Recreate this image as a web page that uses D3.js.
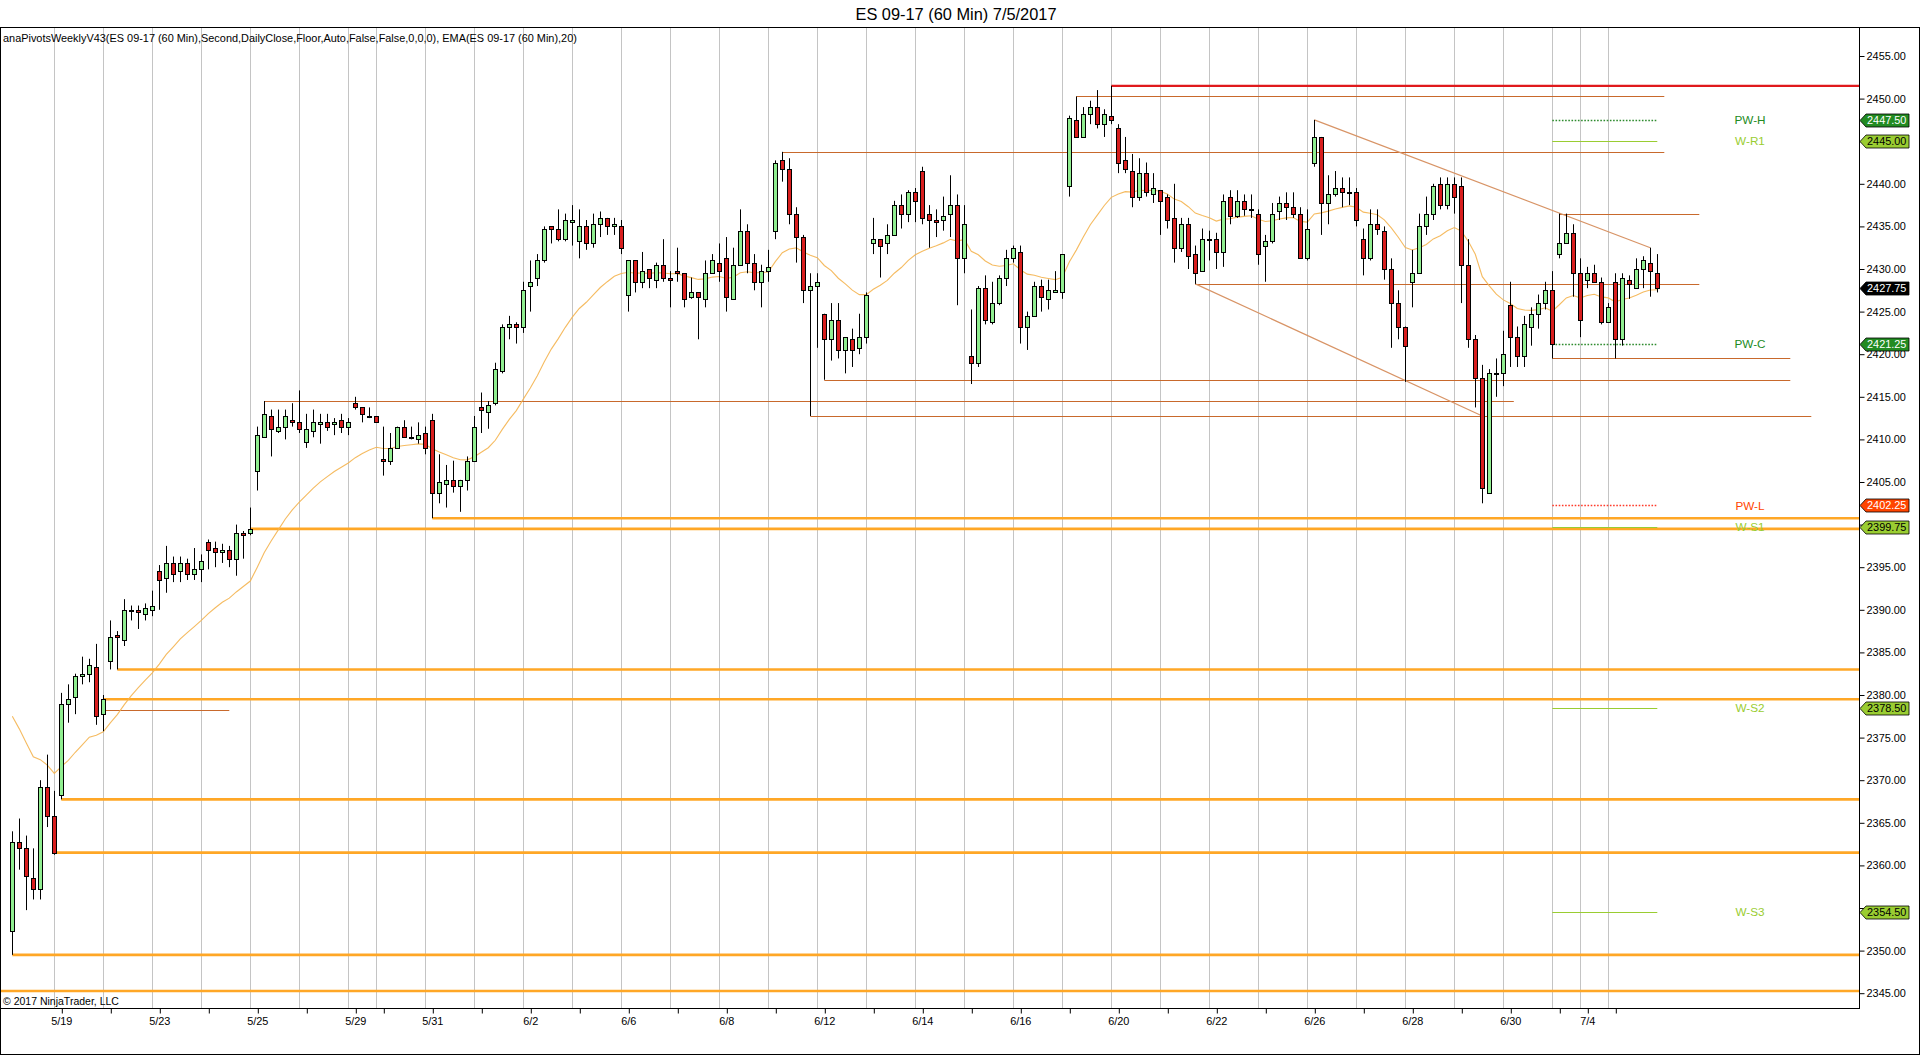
<!DOCTYPE html>
<html><head><meta charset="utf-8">
<script src="https://cdn.jsdelivr.net/npm/d3@7"></script>
<style>
html,body{margin:0;padding:0;background:#fff;overflow:hidden;}
svg{display:block;}
</style></head><body><svg id="c" width="1920" height="1055"></svg>
<script>
// ---------------- DATA ----------------
const opens = [2352.25,2362.75,2362.0,2358.5,2357.25,2369.25,2365.75,2368.25,2379.0,2379.75,2382.25,2382.5,2383.25,2377.75,2384.0,2387.0,2386.5,2390.0,2390.0,2389.5,
2390.0,2394.5,2393.75,2395.5,2394.5,2395.5,2394.25,2394.75,2398.0,2397.25,2396.75,2397.0,2396.0,2399.0,2399.0,2406.25,2410.25,2412.75,2411.0,2411.5,
2412.25,2412.0,2409.75,2411.0,2411.75,2412.0,2411.75,2412.25,2411.5,2414.25,2413.75,2412.75,2412.75,2407.75,2407.5,2409.0,2411.5,2410.25,2410.0,2410.75,
2412.25,2403.75,2404.75,2405.25,2404.5,2405.25,2407.5,2413.75,2413.25,2414.25,2418.0,2423.25,2423.5,2423.25,2428.0,2429.0,2431.0,2435.0,2434.75,2433.5,
2435.5,2433.25,2435.0,2433.0,2435.25,2436.0,2435.0,2435.0,2427.0,2431.0,2428.5,2430.0,2428.75,2430.5,2429.0,2429.75,2429.5,2426.75,2427.25,2426.5,
2429.5,2430.75,2431.25,2426.5,2430.5,2434.5,2430.75,2428.5,2429.75,2434.5,2442.75,2441.75,2436.5,2433.75,2427.5,2428.0,2424.75,2421.75,2424.0,2420.5,
2421.75,2420.75,2422.0,2433.0,2433.5,2433.0,2434.0,2437.5,2436.5,2439.0,2441.5,2436.5,2435.75,2435.75,2436.5,2437.5,2431.25,2419.75,2419.0,2427.75,
2423.75,2426.0,2429.0,2431.25,2432.0,2423.25,2424.5,2428.0,2426.5,2427.25,2427.25,2439.75,2447.5,2445.5,2448.25,2449.0,2447.0,2448.0,2446.5,2442.75,
2441.5,2438.5,2441.25,2438.75,2439.25,2438.5,2436.0,2432.5,2435.25,2431.75,2429.75,2433.5,2433.5,2432.0,2438.5,2436.25,2438.0,2437.0,2436.5,2432.75,
2433.25,2436.75,2437.75,2437.25,2436.5,2431.25,2442.5,2445.5,2437.75,2438.75,2439.5,2439.0,2439.0,2433.5,2431.25,2435.25,2434.5,2430.0,2426.0,2423.25,
2428.5,2429.5,2435.0,2436.5,2440.0,2437.5,2440.0,2439.75,2430.5,2421.75,2417.25,2403.75,2417.75,2417.75,2425.75,2422.0,2419.75,2423.25,2424.75,2426.0,
2427.5,2431.75,2433.0,2434.25,2429.5,2428.75,2429.5,2428.5,2423.75,2428.5,2421.75,2428.75,2427.75,2430.0,2430.75,2429.5];
const highs = [2364.0,2365.5,2363.5,2362.0,2370.0,2373.0,2368.75,2380.25,2381.25,2382.5,2384.5,2384.25,2386.0,2380.0,2388.75,2387.5,2391.25,2390.5,2390.5,2390.75,
2392.25,2395.25,2397.5,2396.25,2396.25,2396.0,2397.25,2396.5,2398.25,2398.0,2397.75,2397.5,2400.0,2399.25,2402.0,2411.5,2414.5,2413.5,2413.5,2413.5,
2414.25,2415.75,2413.0,2413.5,2413.0,2413.0,2412.5,2413.0,2412.5,2415.0,2413.75,2413.75,2412.75,2411.5,2410.75,2411.5,2412.25,2411.5,2412.0,2411.5,
2413.0,2408.25,2407.0,2407.5,2405.25,2408.0,2412.75,2415.5,2414.5,2419.0,2423.5,2424.5,2423.75,2428.5,2431.0,2431.75,2435.0,2435.0,2437.0,2436.5,
2437.5,2437.0,2435.75,2436.5,2436.75,2436.0,2436.0,2435.75,2431.0,2431.0,2432.0,2430.0,2430.75,2433.5,2429.75,2432.5,2429.5,2429.0,2427.25,2431.0,
2431.75,2433.0,2433.75,2432.5,2437.0,2435.25,2431.75,2430.5,2432.25,2442.75,2443.75,2443.0,2437.25,2434.0,2429.5,2429.5,2424.75,2426.0,2426.0,2422.0,
2423.0,2424.75,2427.25,2436.0,2433.5,2435.25,2438.0,2438.75,2439.25,2439.5,2442.0,2437.5,2437.0,2438.5,2441.0,2438.75,2437.5,2425.25,2428.0,2429.25,
2428.5,2429.25,2432.25,2432.75,2432.75,2425.0,2428.5,2428.75,2428.75,2429.75,2431.75,2448.0,2450.25,2449.0,2449.75,2451.0,2448.75,2451.5,2447.0,2445.5,
2443.5,2443.0,2442.5,2441.25,2439.25,2438.75,2440.0,2436.0,2436.0,2432.75,2434.75,2434.5,2434.25,2438.75,2439.25,2439.25,2438.75,2438.75,2437.0,2434.0,
2437.75,2438.5,2439.0,2439.0,2437.25,2437.0,2447.5,2445.5,2441.0,2441.5,2440.75,2440.75,2439.5,2434.75,2437.0,2437.0,2435.0,2431.25,2427.5,2423.25,
2432.25,2436.5,2438.5,2440.0,2440.75,2440.75,2440.75,2440.75,2433.5,2422.25,2418.75,2418.25,2419.5,2422.75,2428.5,2423.25,2424.5,2425.5,2427.0,2428.5,
2429.75,2436.5,2436.5,2435.25,2431.25,2430.25,2430.5,2429.0,2426.0,2429.5,2429.5,2429.25,2431.25,2431.5,2432.5,2431.75];
const lows = [2349.5,2359.5,2354.75,2356.0,2356.0,2364.5,2361.25,2367.75,2376.75,2377.75,2381.25,2381.5,2376.5,2375.75,2383.0,2383.0,2385.75,2388.75,2387.75,2388.75,
2389.25,2390.0,2392.0,2393.25,2393.25,2393.5,2393.5,2393.25,2394.75,2395.0,2395.5,2395.0,2394.0,2396.0,2398.75,2404.0,2410.25,2408.0,2410.75,2410.0,
2411.5,2410.75,2409.0,2410.25,2409.5,2411.0,2410.5,2410.75,2410.5,2413.5,2412.0,2412.5,2412.0,2405.75,2407.0,2409.0,2410.25,2410.0,2409.5,2408.25,
2400.75,2402.5,2402.0,2403.75,2401.5,2404.0,2407.5,2410.75,2411.25,2414.0,2417.75,2421.75,2421.25,2422.5,2425.0,2428.0,2430.75,2433.0,2433.25,2433.25,
2432.75,2431.25,2432.25,2432.5,2433.75,2434.0,2434.0,2431.75,2425.0,2427.25,2427.75,2427.75,2427.75,2428.5,2425.5,2428.5,2425.5,2426.5,2421.75,2425.5,
2429.5,2428.5,2425.0,2426.5,2430.5,2429.5,2427.5,2425.5,2428.5,2433.5,2440.25,2435.25,2430.75,2426.0,2412.75,2420.75,2417.0,2419.25,2419.5,2417.75,
2418.5,2420.0,2421.25,2431.75,2429.0,2431.75,2434.0,2434.75,2435.5,2435.5,2435.25,2432.5,2433.75,2434.5,2433.75,2425.75,2429.5,2416.5,2418.5,2423.5,
2423.5,2425.75,2428.0,2430.75,2421.25,2420.5,2424.5,2425.0,2425.25,2427.25,2426.5,2438.5,2445.5,2445.5,2447.0,2446.5,2445.5,2447.0,2441.25,2441.25,
2437.25,2438.0,2438.5,2437.75,2434.0,2434.75,2430.75,2432.0,2430.0,2428.25,2429.75,2431.0,2430.0,2430.25,2435.25,2436.0,2436.25,2436.0,2430.5,2428.5,
2433.0,2435.75,2435.75,2436.0,2431.25,2431.0,2442.0,2434.0,2435.25,2438.5,2437.25,2437.5,2435.0,2429.25,2431.0,2434.0,2428.75,2420.75,2421.75,2416.75,
2425.5,2429.5,2434.0,2435.75,2437.0,2437.0,2436.5,2426.0,2420.75,2413.75,2402.5,2403.75,2415.0,2416.25,2418.5,2418.5,2418.5,2421.0,2423.0,2425.25,
2419.5,2431.25,2433.0,2426.75,2422.0,2427.75,2428.5,2423.5,2423.75,2419.5,2421.0,2426.5,2427.75,2427.75,2426.75,2427.25];
const closes = [2362.75,2362.0,2358.75,2357.25,2369.25,2365.75,2361.5,2379.0,2379.5,2382.25,2382.5,2383.5,2377.5,2379.5,2386.75,2386.75,2390.0,2390.0,2389.75,2390.25,
2390.5,2393.5,2395.5,2394.25,2395.5,2394.25,2394.75,2395.75,2397.0,2396.75,2397.0,2396.0,2399.0,2398.75,2399.5,2410.5,2413.0,2411.25,2411.5,2412.75,
2412.0,2411.25,2411.25,2412.0,2412.0,2411.5,2412.0,2411.5,2412.0,2413.75,2413.0,2412.75,2412.0,2407.5,2409.0,2411.5,2410.25,2410.25,2410.5,2409.0,
2403.75,2405.0,2405.25,2404.5,2405.25,2407.5,2411.5,2413.5,2414.0,2418.25,2423.25,2423.5,2423.25,2427.5,2428.5,2431.0,2434.75,2434.75,2433.5,2435.75,
2435.75,2435.0,2433.0,2435.25,2436.0,2435.0,2435.25,2432.5,2431.0,2428.5,2429.75,2429.0,2430.5,2429.0,2428.75,2429.5,2426.5,2427.25,2426.75,2429.5,
2431.0,2429.75,2426.75,2430.5,2434.5,2430.75,2428.5,2429.75,2430.25,2442.5,2441.75,2436.5,2433.75,2427.5,2428.0,2428.5,2421.75,2424.0,2420.5,2422.0,
2420.5,2422.0,2427.0,2433.5,2432.75,2434.0,2437.5,2436.5,2439.0,2438.0,2436.0,2435.75,2435.5,2436.25,2437.5,2431.25,2435.25,2419.0,2427.75,2424.0,
2426.0,2429.0,2431.25,2432.5,2423.25,2424.5,2428.0,2426.75,2427.5,2427.5,2431.75,2447.75,2445.5,2448.25,2449.0,2447.0,2448.25,2447.5,2442.5,2441.75,
2438.5,2441.25,2439.0,2439.5,2438.0,2435.75,2432.5,2435.25,2431.5,2429.5,2433.5,2433.5,2432.0,2438.0,2436.25,2438.0,2437.0,2437.0,2431.75,2433.25,
2436.5,2437.75,2437.25,2436.5,2431.25,2434.75,2445.5,2437.75,2438.75,2439.5,2439.0,2439.0,2435.75,2431.25,2435.25,2434.75,2430.0,2426.0,2423.25,2421.0,
2429.5,2435.0,2436.5,2439.75,2437.5,2440.0,2438.5,2430.5,2421.75,2417.25,2404.25,2417.75,2417.75,2420.0,2422.0,2419.75,2423.5,2424.75,2426.0,2427.5,
2421.25,2433.0,2434.25,2429.5,2424.0,2429.5,2428.5,2423.75,2425.5,2421.75,2429.0,2428.25,2430.0,2431.0,2429.75,2427.75];
const emaFirstValue = 2377.5;   // EMA(20) value read at the first visible bar
const emaPeriod = 20;

const priceTicks = [2345,2350,2355,2360,2365,2370,2375,2380,2385,2390,2395,2400,2405,2410,2415,2420,2425,2430,2435,2440,2445,2450,2455];
const sessionBreakBars = [6,13,20,27,34,41,48,52,59,66,73,80,87,94,101,108,115,122,129,136,143,150,157,164,171,178,185,192,199,206,213,220,224,228];
const dateTickBars   = [7,14,21,28,35,42,49,53,60,67,74,81,88,95,102,109,116,123,130,137,144,151,158,165,172,179,186,193,200,207,214,221,225,229];
const dateTickLabels = ["5/19","","5/23","","5/25","","5/29","","5/31","","6/2","","6/6","","6/8","","6/12","","6/14","","6/16","","6/20","","6/22","","6/26","","6/28","","6/30","","7/4",""];

// weekly pivots
const pivotNames  = ["PW-H","W-R1","PW-C","PW-L","W-S1","W-S2","W-S3"];
const pivotValues = [2447.5,2445.0,2421.25,2402.25,2399.75,2378.5,2354.5];
const pivotFromBar = 220, pivotToBar = 235;

// floor (orange) levels and the bar where each starts
const floorLevels    = [2400.75,2399.5,2383.0,2379.5,2367.75,2361.5,2349.5,2345.25];
const floorStartBars = [60,34,15,13,7,6,0,null];

// hand-drawn horizontal rays: level, start bar, end bar
const rayLevels    = [2450.25,2443.75,2436.5,2428.25,2419.5,2417.0,2414.5,2412.75,2378.25];
const rayStartBars = [152,110,221,169,220,116,36,114,13];
const rayEndBars   = [236,236,241,241,254,254,214.5,257,31];

// trend lines: [startBar, startPrice, endBar, endPrice]
const trendStartBars  = [186,169];
const trendStartPrice = [2447.5,2428.25];
const trendEndBars    = [234,210];
const trendEndPrice   = [2432.5,2412.75];

// red resistance line
const redLevel = 2451.5, redStartBar = 157;

const lastPrice = 2427.75;
const titleText = "ES 09-17 (60 Min)  7/5/2017";
const indicatorText = "anaPivotsWeeklyV43(ES 09-17 (60 Min),Second,DailyClose,Floor,Auto,False,False,0,0,0), EMA(ES 09-17 (60 Min),20)";
const copyrightText = "\u00A9 2017 NinjaTrader, LLC";

// ---------------- STYLE / LAYOUT ----------------
function fontAvailable(name){
  const c=document.createElement('canvas').getContext('2d');
  const s='2455.00 NinjaTrader WWW';
  c.font='40px monospace'; const w0=c.measureText(s).width;
  c.font='40px "'+name+'", monospace'; const w1=c.measureText(s).width;
  return Math.abs(w0-w1)>0.5;
}
const hasNarrow = fontAvailable("Liberation Sans Narrow");
const FONT = hasNarrow ? '"Liberation Sans Narrow", "Arial Narrow", sans-serif' : '"Liberation Sans", Arial, sans-serif';
const fs = v => (hasNarrow ? v : v*0.84) + "px";

const W=1920,H=1055;
const plotL=0, plotR=1859, plotT=27, plotB=1008;
const svg=d3.select("#c");
svg.append("rect").attr("width",W).attr("height",H).attr("fill","#fff");

const x=d3.scaleLinear().domain([0,235]).range([12.3,1657.3]);
const y=d3.scaleLinear().domain([2345,2455]).range([993.2,56]);
const px = v => Math.round(v)+0.5;

const g=svg.append("g");

// session grid lines
g.append("g").selectAll("line").data(sessionBreakBars).join("line")
  .attr("x1",d=>px(x(d))).attr("x2",d=>px(x(d))).attr("y1",plotT).attr("y2",plotB)
  .attr("stroke","#c4c4c4").attr("stroke-width",1);

// floor lines
g.append("g").selectAll("line").data(floorLevels).join("line")
  .attr("x1",(d,i)=>floorStartBars[i]===null?plotL:x(floorStartBars[i]))
  .attr("x2",plotR).attr("y1",d=>y(d)).attr("y2",d=>y(d))
  .attr("stroke","#ffa726").attr("stroke-width",2.6);

// rays
g.append("g").selectAll("line").data(rayLevels).join("line")
  .attr("x1",(d,i)=>x(rayStartBars[i])).attr("x2",(d,i)=>Math.min(plotR,x(rayEndBars[i])))
  .attr("y1",d=>px(y(d))).attr("y2",d=>px(y(d)))
  .attr("stroke","#c8692c").attr("stroke-width",1);

// trend lines
g.append("g").selectAll("line").data(trendStartBars).join("line")
  .attr("x1",d=>x(d)).attr("y1",(d,i)=>y(trendStartPrice[i]))
  .attr("x2",(d,i)=>x(trendEndBars[i])).attr("y2",(d,i)=>y(trendEndPrice[i]))
  .attr("stroke","#d89466").attr("stroke-width",1.2);

// red line
g.append("line").attr("x1",x(redStartBar)).attr("x2",plotR)
  .attr("y1",y(redLevel)).attr("y2",y(redLevel)).attr("stroke","#e0191c").attr("stroke-width",2.2);

// pivot lines
const pivotLineColor={"PW-H":"#2e8b2e","W-R1":"#9acd32","PW-C":"#2e8b2e","PW-L":"#ff3b2a","W-S1":"#9acd32","W-S2":"#9acd32","W-S3":"#9acd32"};
const pivotDotted={"PW-H":true,"PW-C":true,"PW-L":true};
g.append("g").selectAll("line").data(pivotValues).join("line")
  .attr("x1",x(pivotFromBar)).attr("x2",x(pivotToBar))
  .attr("y1",d=>px(y(d))).attr("y2",d=>px(y(d)))
  .attr("stroke",(d,i)=>pivotLineColor[pivotNames[i]])
  .attr("stroke-width",(d,i)=>pivotDotted[pivotNames[i]]?1.6:1)
  .attr("stroke-dasharray",(d,i)=>pivotDotted[pivotNames[i]]?"1.6,1.6":null);
const pivotTextColor={"PW-H":"#228b22","W-R1":"#9acd32","PW-C":"#228b22","PW-L":"#ff4500","W-S1":"#9acd32","W-S2":"#9acd32","W-S3":"#9acd32"};
g.append("g").selectAll("text").data(pivotValues).join("text")
  .attr("x",1750).attr("y",d=>y(d)).attr("dy","0.36em").attr("text-anchor","middle")
  .attr("font-family",FONT).attr("font-size",fs(14))
  .attr("fill",(d,i)=>pivotTextColor[pivotNames[i]]).text((d,i)=>pivotNames[i]);

// EMA (computed from closes)
const ema=[emaFirstValue];
const k=2/(emaPeriod+1);
for(let i=1;i<closes.length;i++) ema.push(ema[i-1]+k*(closes[i]-ema[i-1]));
g.append("path").datum(ema)
  .attr("d",d3.line().x((d,i)=>x(i)).y(d=>y(d)))
  .attr("fill","none").attr("stroke","#f4b450").attr("stroke-width",1.1).attr("opacity",0.9);

// candles
const idx=d3.range(opens.length);
const cg=g.append("g");
cg.selectAll("line").data(idx).join("line")
  .attr("x1",i=>px(x(i))).attr("x2",i=>px(x(i)))
  .attr("y1",i=>y(highs[i])).attr("y2",i=>y(lows[i]))
  .attr("stroke","#000").attr("stroke-width",1);
cg.selectAll("rect").data(idx).join("rect")
  .attr("x",i=>Math.round(x(i))-1.5).attr("width",4)
  .attr("y",i=>Math.round(y(Math.max(opens[i],closes[i])))+0.5)
  .attr("height",i=>Math.max(1,Math.round(y(Math.min(opens[i],closes[i])))-Math.round(y(Math.max(opens[i],closes[i])))))
  .attr("fill",i=>closes[i]>opens[i]?"#90ee90":(closes[i]<opens[i]?"#d81e1e":"#90ee90"))
  .attr("stroke","#000").attr("stroke-width",1);

// frame & axes lines
svg.append("line").attr("x1",0).attr("x2",W).attr("y1",plotT+0.5).attr("y2",plotT+0.5).attr("stroke","#000");
svg.append("line").attr("x1",0.5).attr("x2",0.5).attr("y1",plotT).attr("y2",H).attr("stroke","#000");
svg.append("line").attr("x1",W-0.5).attr("x2",W-0.5).attr("y1",plotT).attr("y2",H).attr("stroke","#000");
svg.append("line").attr("x1",0).attr("x2",W).attr("y1",H-0.5).attr("y2",H-0.5).attr("stroke","#000");
svg.append("line").attr("x1",plotR+0.5).attr("x2",plotR+0.5).attr("y1",plotT).attr("y2",plotB).attr("stroke","#000");
svg.append("line").attr("x1",0).attr("x2",plotR+1).attr("y1",plotB+0.5).attr("y2",plotB+0.5).attr("stroke","#000");

// price markers (values shown on the axis)
const markerNames=pivotNames.concat(["last"]);
const markerValues=pivotValues.concat([lastPrice]);

// price axis (tick labels fully hidden under a marker are not drawn, as in the reference)
const covered = v => markerValues.some(m => Math.abs(m - v) <= 0.6);
const yAxis=svg.append("g").attr("transform",`translate(${plotR+0.5},0)`)
  .call(d3.axisRight(y).tickValues(priceTicks).tickFormat(d=>covered(d)?"":d3.format(".2f")(d)).tickSize(5).tickPadding(2));
yAxis.select(".domain").remove();
yAxis.selectAll("text").filter(function(){return this.textContent==="";}).remove();
yAxis.selectAll("text").attr("font-family",FONT).attr("font-size",fs(13)).attr("fill","#000");
yAxis.selectAll("line").attr("stroke","#000");

// date axis
const xAxis=svg.append("g").attr("transform",`translate(0,${plotB+0.5})`)
  .call(d3.axisBottom(x).tickValues(dateTickBars).tickFormat((d,i)=>dateTickLabels[i]).tickSize(5).tickPadding(4));
xAxis.select(".domain").remove();
xAxis.selectAll("text").filter(function(){return this.textContent==="";}).remove();
xAxis.selectAll("text").attr("font-family",FONT).attr("font-size",fs(13)).attr("fill","#000");
xAxis.selectAll("line").attr("stroke","#000").attr("transform","translate(0.5,0)");

const markerFill={"PW-H":"#228b22","W-R1":"#9acd32","PW-C":"#228b22","PW-L":"#ff4500","W-S1":"#9acd32","W-S2":"#9acd32","W-S3":"#9acd32","last":"#000"};
const markerText={"PW-H":"#fff","W-R1":"#000","PW-C":"#fff","PW-L":"#fff","W-S1":"#000","W-S2":"#000","W-S3":"#000","last":"#fff"};
const mg=svg.append("g").selectAll("g").data(markerValues).join("g")
  .attr("transform",d=>`translate(${plotR+1},${Math.round(y(d))+0.5})`);
mg.append("path").attr("d","M0,0 L6,-6.5 L49,-6.5 L49,6.5 L6,6.5 Z")
  .attr("fill",(d,i)=>markerFill[markerNames[i]]).attr("stroke","#000").attr("stroke-width",0.8);
mg.append("text").attr("x",7).attr("dy","0.36em").attr("font-family",FONT).attr("font-size",fs(13))
  .attr("fill",(d,i)=>markerText[markerNames[i]]).text(d=>d3.format(".2f")(d));

// texts
svg.append("text").attr("x",956).attr("y",14).attr("dy","0.36em").attr("text-anchor","middle")
  .attr("font-family",FONT).attr("font-size",fs(19.5)).attr("fill","#000").text(titleText);
svg.append("text").attr("x",3).attr("y",38).attr("dy","0.36em")
  .attr("font-family",FONT).attr("font-size",fs(13)).attr("fill","#000").text(indicatorText);
svg.append("text").attr("x",3).attr("y",1001).attr("dy","0.36em")
  .attr("font-family",FONT).attr("font-size",fs(12.5)).attr("fill","#000").text(copyrightText);
</script></body></html>
